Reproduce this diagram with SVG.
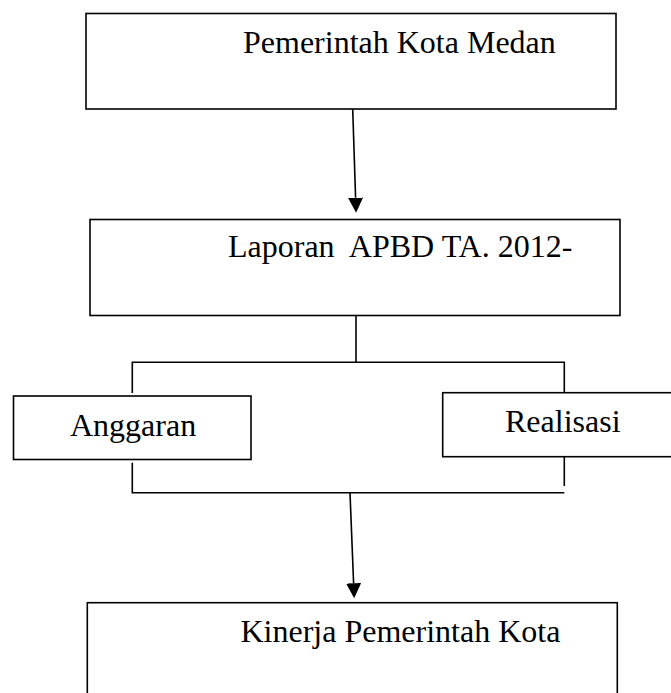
<svg xmlns="http://www.w3.org/2000/svg" width="671" height="693" viewBox="0 0 671 693">
  <style>
    .box { fill: #ffffff; stroke: #000000; stroke-width: 1.6; }
    .lbl { font-family: "Liberation Serif", "Times New Roman", serif; font-size: 32px; fill: #000000; }
    .conn { fill: none; stroke: #000000; stroke-width: 1.6; }
  </style>
  <defs>
    <marker id="arrow" markerUnits="userSpaceOnUse" markerWidth="16" markerHeight="16" refX="0" refY="7.5" orient="auto">
      <path d="M0,0 L15,7.5 L0,15 Z" fill="#000000"/>
    </marker>
  </defs>
  <rect width="671" height="693" fill="#ffffff"/>

  <g id="node-pemerintah">
    <rect class="box" x="86" y="13.5" width="530" height="95.5"/>
    <text class="lbl" x="243" y="53">Pemerintah Kota Medan</text>
  </g>

  <g id="node-laporan">
    <rect class="box" x="90" y="219.5" width="530" height="96"/>
    <text class="lbl" x="228" y="257" xml:space="preserve">Laporan  APBD TA. 2012-</text>
  </g>

  <g id="node-anggaran">
    <rect class="box" x="13.5" y="396" width="237.5" height="63.5"/>
    <text class="lbl" x="70" y="436">Anggaran</text>
  </g>

  <g id="node-realisasi">
    <rect class="box" x="442.7" y="392.7" width="240" height="64"/>
    <text class="lbl" x="505" y="432">Realisasi</text>
  </g>

  <g id="node-kinerja">
    <rect class="box" x="87.3" y="602.7" width="530" height="110"/>
    <text class="lbl" x="240.5" y="642">Kinerja Pemerintah Kota</text>
  </g>

  <g id="connectors">
    <line class="conn" x1="352.7" y1="109" x2="355.6" y2="197.7" marker-end="url(#arrow)"/>
    <line class="conn" x1="356" y1="315.5" x2="356" y2="362.3"/>
    <polyline class="conn" points="132.3,393 132.3,362.3 564.3,362.3 564.3,393"/>
    <polyline class="conn" points="132.3,462.7 132.3,492.7 564.3,492.7"/>
    <line class="conn" x1="564.3" y1="456.7" x2="564.3" y2="486"/>
    <line class="conn" x1="350" y1="493" x2="353.6" y2="583.3" marker-end="url(#arrow)"/>
  </g>
</svg>
